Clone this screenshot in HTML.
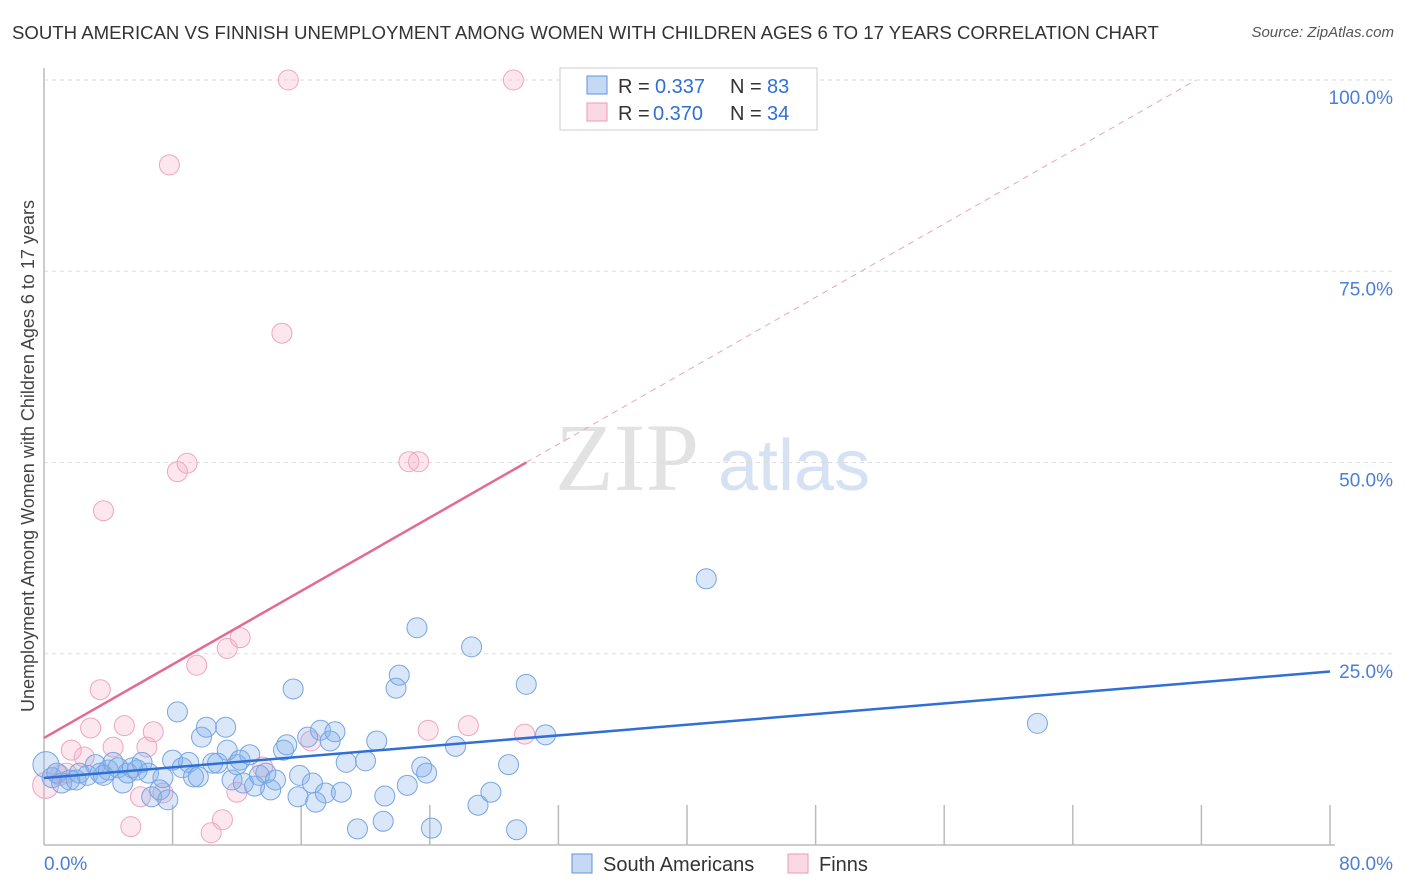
<!DOCTYPE html>
<html><head><meta charset="utf-8">
<style>
body{margin:0;background:#fff;font-family:"Liberation Sans",sans-serif;}
#wrap{position:relative;width:1406px;height:892px;overflow:hidden;}
.t{position:absolute;white-space:nowrap;}
</style></head>
<body>
<div id="wrap">
<div class="t" style="left:12px;top:22px;font-size:18.6px;color:#333;">SOUTH AMERICAN VS FINNISH UNEMPLOYMENT AMONG WOMEN WITH CHILDREN AGES 6 TO 17 YEARS CORRELATION CHART</div>
<div class="t" style="right:12px;top:24px;font-size:15px;color:#555;font-style:italic;">Source: ZipAtlas.com</div>
<svg id="svg" width="1406" height="892" style="position:absolute;left:0;top:0"></svg>
</div>
<script>
const blueX=[0.12,0.5,0.8,1.1,1.6,2.0,2.2,2.7,3.2,3.5,3.7,4.0,4.3,4.6,4.9,5.2,5.5,5.8,6.1,6.5,6.7,7.2,7.4,7.7,8.0,8.3,8.6,9.0,9.3,9.6,9.8,10.1,10.5,10.8,11.3,11.4,11.7,12.0,12.2,12.4,12.8,13.1,13.4,13.8,14.1,14.4,14.9,15.1,15.5,15.8,15.9,16.4,16.7,16.9,17.2,17.5,17.8,18.1,18.5,18.8,19.5,20.0,20.7,21.2,21.1,21.9,22.1,22.6,23.2,23.5,23.8,24.1,25.6,26.6,27.0,27.8,28.9,29.4,30.0,31.2,41.2,61.8];
const blueY=[10.5,8.8,9.4,8.1,8.5,8.5,9.4,9.1,10.5,9.4,9.1,9.8,10.8,10.1,8.1,9.4,10.1,9.8,10.8,9.4,6.3,7.2,8.8,5.9,11.1,17.4,10.1,10.8,8.9,8.9,14.1,15.4,10.7,10.7,15.4,12.4,8.5,10.5,11.1,8.1,11.8,7.7,9.1,9.4,7.2,8.5,12.4,13.1,20.4,6.3,9.1,14.1,8.1,5.6,15.0,6.8,13.6,14.8,6.9,10.8,2.1,11.0,13.6,6.4,3.1,20.5,22.2,7.8,28.4,10.2,9.4,2.2,12.9,25.9,5.2,6.9,10.5,2.0,21.0,14.4,34.8,15.9];
const pinkX=[0.1,1.0,1.4,1.7,2.5,2.9,3.5,3.7,4.3,5.0,5.4,6.0,6.4,6.8,7.4,7.8,8.3,8.9,9.5,10.4,11.1,11.4,12.0,12.2,13.6,14.8,15.2,16.6,22.7,23.3,23.9,26.4,29.2,29.9];
const pinkY=[7.8,9.1,9.4,12.4,11.5,15.3,20.3,43.7,12.8,15.6,2.4,6.3,12.8,14.8,6.8,88.9,48.8,49.9,23.5,1.6,3.3,25.7,6.9,27.1,10.2,66.9,100,13.6,50.1,50.1,15.0,15.6,100,14.5];
const yTicks=[25,50,75,100];
const yTickLabels=["25.0%","50.0%","75.0%","100.0%"];
const xTicks=[0,8,16,24,32,40,48,56,64,72,80];
const blueTrend=[8.76,0.174];
const pinkTrend=[14.0,1.2];

const X0=44,X1=1330,Y0=845,Y100=80;
const sx=v=>X0+(X1-X0)*v/80;
const sy=v=>Y0-(Y0-Y100)*v/100;
const svg=document.getElementById('svg');
const NS='http://www.w3.org/2000/svg';
function mk(tag,attrs,name){const e=document.createElementNS(NS,tag);for(const k in attrs)e.setAttribute(k,attrs[k]);


svg.appendChild(e);return e;}
let w=mk('text',{x:555,y:490,'font-size':96,'font-family':'Liberation Serif,serif',fill:'#e2e2e2'},'watermark-zip');w.textContent='ZIP';
w=mk('text',{x:718,y:490,'font-size':72,'font-family':'Liberation Sans,sans-serif',fill:'#d6e2f3'},'watermark-atlas');w.textContent='atlas';
yTicks.forEach((t,i)=>{
 mk('line',{x1:X0,x2:1395,y1:sy(t),y2:sy(t),stroke:'#ddd','stroke-dasharray':'4,4'},'gridline');
 const tx=mk('text',{x:1393,y:sy(t)+24,'text-anchor':'end','font-size':19,fill:'#4a7fd4'},'y-tick-label');tx.textContent=yTickLabels[i];
});
mk('line',{x1:X0,x2:X0,y1:68,y2:Y0,stroke:'#bbb','stroke-width':1.5},'y-axis-line');
mk('line',{x1:X0,x2:X1+5,y1:Y0,y2:Y0,stroke:'#bbb','stroke-width':1.5},'x-axis-line');
xTicks.forEach(t=>{if(t>0)mk('line',{x1:sx(t),x2:sx(t),y1:805,y2:Y0,stroke:'#bbb','stroke-width':1.5},'x-tick');});
let l=mk('text',{x:44,y:870,'font-size':19,fill:'#4a7fd4'},'x-min-label');l.textContent='0.0%';
l=mk('text',{x:1393,y:870,'text-anchor':'end','font-size':19,fill:'#4a7fd4'},'x-max-label');l.textContent='80.0%';
l=mk('text',{x:0,y:0,'font-size':18,fill:'#444',transform:'translate(34,456) rotate(-90)','text-anchor':'middle'},'y-axis-title');l.textContent='Unemployment Among Women with Children Ages 6 to 17 years';
function pts(xs,ys,fill,stroke,name){xs.forEach((x,i)=>{const r=i===0?13:10;
 mk('circle',{cx:sx(x),cy:sy(ys[i]),r:r,fill:fill,stroke:stroke,'stroke-width':1},name);});}
pts(pinkX,pinkY,'rgba(245,175,198,0.3)','#eea5be','finns-point');
pts(blueX,blueY,'rgba(130,175,235,0.3)','#77a5e2','south-americans-point');
mk('line',{x1:sx(0),y1:sy(blueTrend[0]),x2:sx(80),y2:sy(blueTrend[0]+blueTrend[1]*80),stroke:'#2f6fd6','stroke-width':2.5},'south-americans-trendline');
mk('line',{x1:sx(0),y1:sy(pinkTrend[0]),x2:sx(30),y2:sy(pinkTrend[0]+pinkTrend[1]*30),stroke:'#e46a93','stroke-width':2.5},'finns-trendline');
const xe=(100-pinkTrend[0])/pinkTrend[1];
mk('line',{x1:sx(30),y1:sy(pinkTrend[0]+pinkTrend[1]*30),x2:sx(xe),y2:sy(100),stroke:'#e9a5bb','stroke-width':1,'stroke-dasharray':'6,5'},'finns-trendline-extension');
mk('rect',{x:560,y:68,width:257,height:62,fill:'#fff',stroke:'#ccc'},'legend-box');
mk('rect',{x:587,y:76,width:20,height:18,fill:'rgba(110,160,230,0.4)',stroke:'#5f93d8'},'legend-swatch-blue');
mk('rect',{x:587,y:103,width:20,height:18,fill:'rgba(242,160,188,0.4)',stroke:'#e99ab4'},'legend-swatch-pink');
function lt(x,y,s,c,n){const t=mk('text',{x:x,y:y,'font-size':20,fill:c},n);t.textContent=s;}
lt(618,93,'R =','#333','legend-r-label');lt(655,93,'0.337','#2f6fd6','legend-r-blue');
lt(730,93,'N =','#333','legend-n-label');lt(767,93,'83','#2f6fd6','legend-n-blue');
lt(618,120,'R =','#333','legend-r-label');lt(653,120,'0.370','#2f6fd6','legend-r-pink');
lt(730,120,'N =','#333','legend-n-label');lt(767,120,'34','#2f6fd6','legend-n-pink');
mk('rect',{x:572,y:854,width:20,height:19,fill:'rgba(110,160,230,0.4)',stroke:'#5f93d8'},'bottom-legend-swatch-south-americans');
mk('rect',{x:788,y:854,width:20,height:19,fill:'rgba(242,160,188,0.4)',stroke:'#e99ab4'},'bottom-legend-swatch-finns');
lt(603,871,'South Americans','#333','bottom-legend-south-americans');
lt(819,871,'Finns','#333','bottom-legend-finns');
</script>
</body></html>
